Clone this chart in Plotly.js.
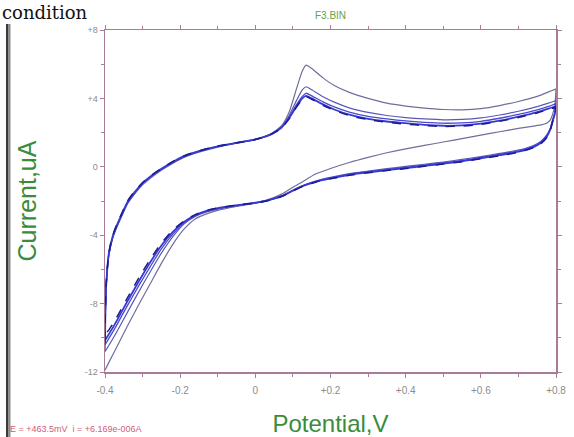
<!DOCTYPE html>
<html>
<head>
<meta charset="utf-8">
<script src="https://cdn.plot.ly/plotly-3.0.1.min.js"></script>
<style>html,body{margin:0;padding:0;background:#fff;}#chart{width:574px;height:437px;}</style>
</head>
<body>
<div id="chart"></div>
<script>
// Potential grids (V)
var fwdV = [-0.4, -0.399, -0.397, -0.394, -0.39, -0.38, -0.37, -0.355, -0.34, -0.32, -0.3, -0.28, -0.25, -0.22, -0.19, -0.15, -0.1, -0.05, 0, 0.04, 0.07, 0.09, 0.11, 0.125, 0.135, 0.15, 0.18, 0.21, 0.25, 0.3, 0.35, 0.4, 0.45, 0.5, 0.55, 0.6, 0.65, 0.7, 0.75, 0.78, 0.8];
var revV = [0.8, 0.797, 0.79, 0.785, 0.775, 0.76, 0.74, 0.7, 0.65, 0.6, 0.55, 0.5, 0.45, 0.4, 0.35, 0.3, 0.25, 0.2, 0.16, 0.12, 0.1, 0.07, 0.03, 0, -0.05, -0.1, -0.13, -0.16, -0.19, -0.22, -0.25, -0.28, -0.31, -0.34, -0.37, -0.39, -0.4];

// Currents (uA) per cycle, forward (anodic) and reverse (cathodic) sweeps
var cyc1Fwd = [-9.8, -8.4, -7.0, -6.0, -5.15, -4.2, -3.6, -2.85, -2.15, -1.55, -1.05, -0.68, -0.2, 0.2, 0.55, 0.85, 1.15, 1.38, 1.58, 1.9, 2.4, 3.2, 4.6, 5.6, 5.95, 5.75, 5.2, 4.75, 4.35, 4.0, 3.72, 3.55, 3.43, 3.35, 3.33, 3.4, 3.58, 3.82, 4.12, 4.38, 4.55];
var cyc1Rev = [4.55, 3.6, 3.0, 2.75, 2.55, 2.45, 2.38, 2.25, 2.05, 1.85, 1.65, 1.45, 1.25, 1.05, 0.82, 0.55, 0.25, -0.1, -0.42, -0.95, -1.2, -1.6, -1.95, -2.12, -2.32, -2.55, -2.75, -3.05, -3.65, -4.55, -5.65, -6.85, -8.05, -9.3, -10.6, -11.45, -11.9];

var cyc2Fwd = [-10.2, -8.6, -7.1, -6.05, -5.2, -4.2, -3.6, -2.85, -2.15, -1.52, -1.0, -0.62, -0.16, 0.24, 0.58, 0.9, 1.18, 1.4, 1.6, 1.9, 2.35, 3.0, 3.9, 4.5, 4.68, 4.5, 4.1, 3.78, 3.45, 3.18, 3.0, 2.88, 2.8, 2.75, 2.77, 2.86, 3.03, 3.25, 3.52, 3.72, 3.88];
var cyc2Rev = [3.88, 3.2, 2.65, 2.25, 1.85, 1.5, 1.25, 0.98, 0.78, 0.6, 0.43, 0.28, 0.15, 0.02, -0.11, -0.25, -0.4, -0.62, -0.84, -1.15, -1.37, -1.7, -1.98, -2.12, -2.28, -2.47, -2.64, -2.9, -3.35, -4.1, -5.05, -6.15, -7.3, -8.5, -9.7, -10.45, -10.8];

var cyc3Fwd = [-10.8, -8.7, -7.1, -6.0, -5.15, -4.15, -3.55, -2.8, -2.1, -1.48, -0.97, -0.6, -0.14, 0.26, 0.6, 0.91, 1.19, 1.4, 1.6, 1.89, 2.32, 2.9, 3.65, 4.12, 4.3, 4.15, 3.8, 3.5, 3.2, 2.95, 2.8, 2.68, 2.6, 2.55, 2.57, 2.66, 2.84, 3.06, 3.33, 3.53, 3.7];
var cyc3Rev = [3.7, 3.15, 2.6, 2.2, 1.8, 1.45, 1.2, 0.93, 0.73, 0.55, 0.37, 0.23, 0.1, -0.03, -0.16, -0.29, -0.44, -0.65, -0.86, -1.16, -1.38, -1.71, -1.98, -2.11, -2.26, -2.44, -2.6, -2.86, -3.28, -3.95, -4.8, -5.85, -6.95, -8.1, -9.3, -10.05, -10.4];

var cyc4Fwd = [-10.4, -8.5, -7.0, -6.0, -5.1, -4.1, -3.5, -2.75, -2.05, -1.45, -0.95, -0.58, -0.12, 0.28, 0.62, 0.92, 1.2, 1.4, 1.6, 1.88, 2.3, 2.85, 3.55, 4.0, 4.15, 4.0, 3.65, 3.35, 3.05, 2.8, 2.65, 2.55, 2.45, 2.4, 2.42, 2.52, 2.7, 2.93, 3.2, 3.4, 3.55];
var cyc4Rev = [3.55, 3.1, 2.6, 2.2, 1.75, 1.4, 1.15, 0.88, 0.68, 0.5, 0.32, 0.18, 0.05, -0.08, -0.2, -0.33, -0.47, -0.68, -0.88, -1.18, -1.4, -1.72, -1.98, -2.1, -2.25, -2.42, -2.58, -2.83, -3.22, -3.82, -4.6, -5.6, -6.7, -7.85, -9.05, -9.8, -10.15];

var cyc5Fwd = [-10.2, -8.4, -6.9, -5.95, -5.05, -4.05, -3.45, -2.7, -2.0, -1.4, -0.92, -0.55, -0.1, 0.3, 0.64, 0.93, 1.21, 1.41, 1.6, 1.87, 2.28, 2.8, 3.5, 3.95, 4.1, 3.95, 3.6, 3.3, 3.0, 2.76, 2.6, 2.5, 2.41, 2.36, 2.38, 2.48, 2.66, 2.88, 3.15, 3.35, 3.5];
var cyc5Rev = [3.5, 3.05, 2.55, 2.15, 1.7, 1.36, 1.12, 0.85, 0.65, 0.47, 0.3, 0.16, 0.03, -0.1, -0.22, -0.35, -0.49, -0.7, -0.9, -1.2, -1.42, -1.74, -2.0, -2.12, -2.24, -2.41, -2.56, -2.8, -3.17, -3.72, -4.47, -5.42, -6.5, -7.65, -8.85, -9.55, -9.8];

var xTickVals = [-0.4, -0.2, 0, 0.2, 0.4, 0.6, 0.8];
var xTickText = ['-0.4', '-0.2', '0', '+0.2', '+0.4', '+0.6', '+0.8'];
var yTickVals = [-12, -8, -4, 0, 4, 8];
var yTickText = ['-12', '-8', '-4', '0', '+4', '+8'];

var cycles = [
  {f: cyc1Fwd, r: cyc1Rev, color: '#6e6e9e', width: 1.2, dash: 'solid'},
  {f: cyc2Fwd, r: cyc2Rev, color: '#5a5ab6', width: 1.2, dash: 'solid'},
  {f: cyc3Fwd, r: cyc3Rev, color: '#4a4acc', width: 1.3, dash: 'solid'},
  {f: cyc4Fwd, r: cyc4Rev, color: '#3838d4', width: 1.8, dash: 'solid'},
  {f: cyc5Fwd, r: cyc5Rev, color: '#1c1c8e', width: 1.5, dash: 'dash'}
];

var traces = cycles.map(function (c) {
  return {
    type: 'scatter', mode: 'lines',
    x: fwdV.concat(revV), y: c.f.concat(c.r),
    line: {color: c.color, width: c.width, dash: c.dash, shape: 'spline', smoothing: 0.6},
    hoverinfo: 'skip', showlegend: false
  };
});

var axisColor = '#a87c98';
var green = '#3a8c3a';
var L = 105, T = 30, W = 451, H = 342;
function px(p) { return (p - L) / W; }
function py(p) { return (T + H - p) / H; }

var layout = {
  width: 574, height: 437,
  margin: {l: L, r: 574 - L - W, t: T, b: 437 - T - H},
  paper_bgcolor: '#ffffff', plot_bgcolor: '#ffffff',
  showlegend: false,
  title: {text: 'F3.BIN', x: 0.5, xref: 'paper', y: 1 - 15 / 437, yanchor: 'middle',
          font: {family: 'Liberation Sans, Arial, sans-serif', size: 10, color: '#6aa04a'}},
  xaxis: {
    range: [-0.4, 0.8], showline: true, linecolor: axisColor, linewidth: 1.5, mirror: 'ticks',
    ticks: 'outside', ticklen: 4, tickcolor: axisColor, tickwidth: 1, ticklabelstandoff: 4,
    tickmode: 'array', tickvals: xTickVals, ticktext: xTickText,
    tickfont: {family: 'Liberation Sans, Arial, sans-serif', size: 10, color: '#8c8c8c'},
    showgrid: false, zeroline: false,
    minor: {dtick: 0.1, tick0: -0.4, ticks: 'outside', ticklen: 3, tickcolor: axisColor, showgrid: false},
    title: {text: 'Potential,V', standoff: 24, font: {family: 'Liberation Sans, Arial, sans-serif', size: 24, color: green}}
  },
  yaxis: {
    range: [-12, 8], showline: true, linecolor: axisColor, linewidth: 1.5, mirror: 'ticks',
    ticks: 'outside', ticklen: 4, tickcolor: axisColor, tickwidth: 1,
    tickmode: 'array', tickvals: yTickVals, ticktext: yTickText,
    tickfont: {family: 'Liberation Sans, Arial, sans-serif', size: 9, color: '#8c8c8c'},
    showgrid: false, zeroline: false,
    minor: {dtick: 2, tick0: -12, ticks: 'outside', ticklen: 3, tickcolor: axisColor, showgrid: false},
    title: {text: 'Current,uA', standoff: 41, font: {family: 'Liberation Sans, Arial, sans-serif', size: 25, color: green}}
  },
  shapes: [
    {type: 'rect', xref: 'paper', yref: 'paper', x0: px(6), x1: px(8.5), y0: py(437), y1: py(24), fillcolor: '#3a3a3a', line: {width: 0}, layer: 'above'},
    {type: 'rect', xref: 'paper', yref: 'paper', x0: px(8.5), x1: px(10.5), y0: py(437), y1: py(24), fillcolor: '#8a8a8a', line: {width: 0}, layer: 'above'}
  ],
  annotations: [
    {text: 'E = +463.5mV  i = +6.169e-006A', xref: 'paper', yref: 'paper', x: px(8), y: py(429),
     xanchor: 'left', yanchor: 'middle', showarrow: false,
     font: {family: 'Liberation Sans, Arial, sans-serif', size: 9, color: '#d0607a'}},
    {text: 'condition', xref: 'paper', yref: 'paper', x: px(0), y: py(0),
     xanchor: 'left', yanchor: 'top', showarrow: false,
     font: {family: 'DejaVu Serif, serif', size: 18, color: '#111111'}}
  ]
};

Plotly.newPlot('chart', traces, layout, {staticPlot: true, displayModeBar: false});
</script>
</body>
</html>
